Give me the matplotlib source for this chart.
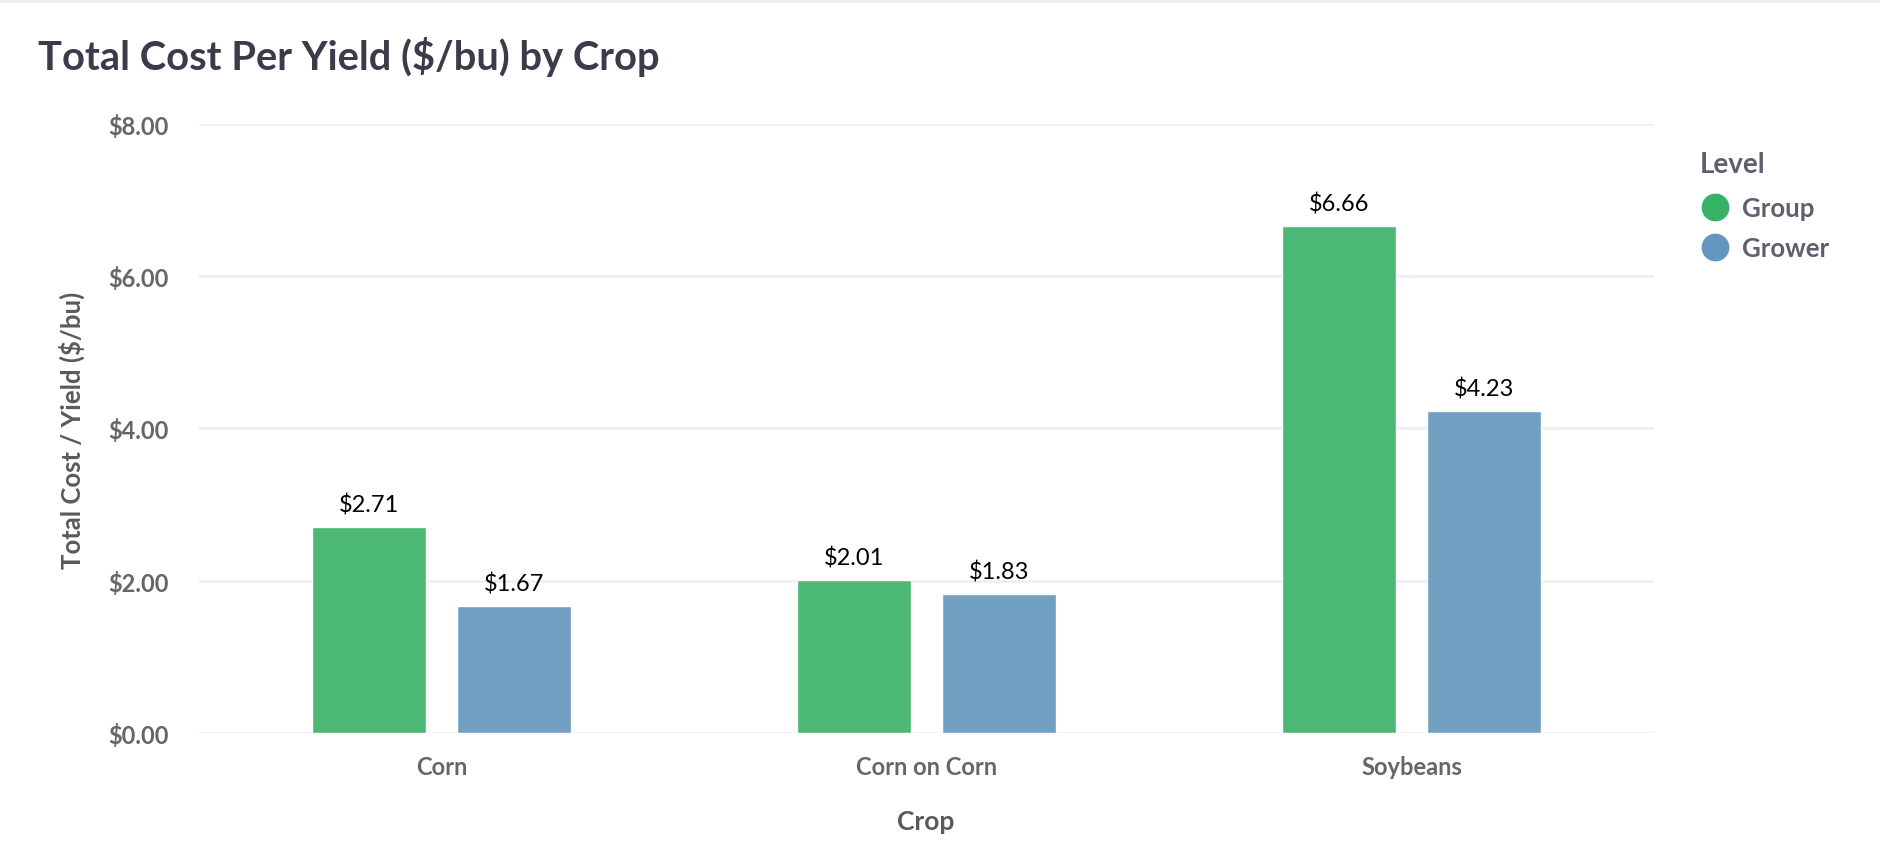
import numpy as np
import matplotlib.pyplot as plt
from matplotlib.lines import Line2D

# Data
crops = ['Corn', 'Corn on Corn', 'Soybeans']
group_vals = [2.71, 2.01, 6.66]
grower_vals = [1.67, 1.83, 4.23]
levels = ['Group', 'Grower']
yticks = [0, 2, 4, 6, 8]

# Colors
bar_colors = ['#4bb875', '#71a0c3']
legend_colors = ['#36b267', '#6497c0']
tick_color = '#666666'
label_color = '#5a5a5a'

plt.rcParams['font.family'] = ['Lato', 'DejaVu Sans']

fig = plt.figure(figsize=(18.8, 8.53), dpi=100)
ax = fig.add_axes([0.1059, 0.1395, 0.7739, 0.714])

x = np.arange(len(crops))
w = 0.235
off = 0.15
series = [group_vals, grower_vals]
for i, vals in enumerate(series):
    pos = x + (-off if i == 0 else off)
    bars = ax.bar(pos, vals, width=w, color=bar_colors[i], edgecolor='white',
                  linewidth=1, zorder=3)
    for b, v in zip(bars, vals):
        ax.annotate(f'${v:.2f}', (b.get_x() + b.get_width() / 2, v),
                    xytext=(0, 8), textcoords='offset points',
                    ha='center', va='bottom', fontsize=17, color='black')

ax.set_xlim(-0.5, len(crops) - 0.5)
ax.set_ylim(0, 8)
ax.set_yticks(yticks)
ax.set_yticklabels([f'${t:.2f}' for t in yticks])
ax.set_xticks(x)
ax.set_xticklabels(crops)
ax.grid(axis='y', color='#f0f0f4', linewidth=2, zorder=0)
ax.set_axisbelow(True)
for s in ax.spines.values():
    s.set_visible(False)
ax.tick_params(axis='both', length=0, colors=tick_color, labelsize=17)
ax.tick_params(axis='y', pad=22)
ax.tick_params(axis='x', pad=16)
for lbl in ax.get_xticklabels() + ax.get_yticklabels():
    lbl.set_fontweight('bold')

fig.text(72 / 1880, 1 - 430 / 853, 'Total Cost / Yield ($/bu)', rotation=90,
         ha='center', va='center', fontsize=18.5, fontweight='bold', color=label_color)
fig.text(926 / 1880, 1 - 822 / 853, 'Crop', ha='center', va='center',
         fontsize=19, fontweight='bold', color=label_color)

fig.text(38 / 1880, 1 - 57 / 853, 'Total Cost Per Yield ($/bu) by Crop',
         ha='left', va='center', fontsize=28.7, fontweight='bold', color='#3a3b4b')

handles = [Line2D([], [], marker='o', linestyle='none', markersize=19,
                  markerfacecolor=c, markeredgecolor=c) for c in legend_colors]
leg = fig.legend(handles, levels, title='Level', loc='upper left',
                 bbox_to_anchor=(1687 / 1880, 1 - 139 / 853), frameon=False,
                 borderpad=0, handletextpad=0.45, labelspacing=0.62,
                 fontsize=18.5, title_fontsize=20, handlelength=1.2)
leg._legend_box.align = 'left'
leg._legend_box.sep = 14
leg.get_title().set_color('#5c5f6d')
leg.get_title().set_fontweight('bold')
for t in leg.get_texts():
    t.set_color('#5c5f6d')
    t.set_fontweight('bold')

fig.add_artist(Line2D([0, 1], [0.998, 0.998], color='#ececf0', linewidth=2))

fig.savefig('out.png', dpi=100)
